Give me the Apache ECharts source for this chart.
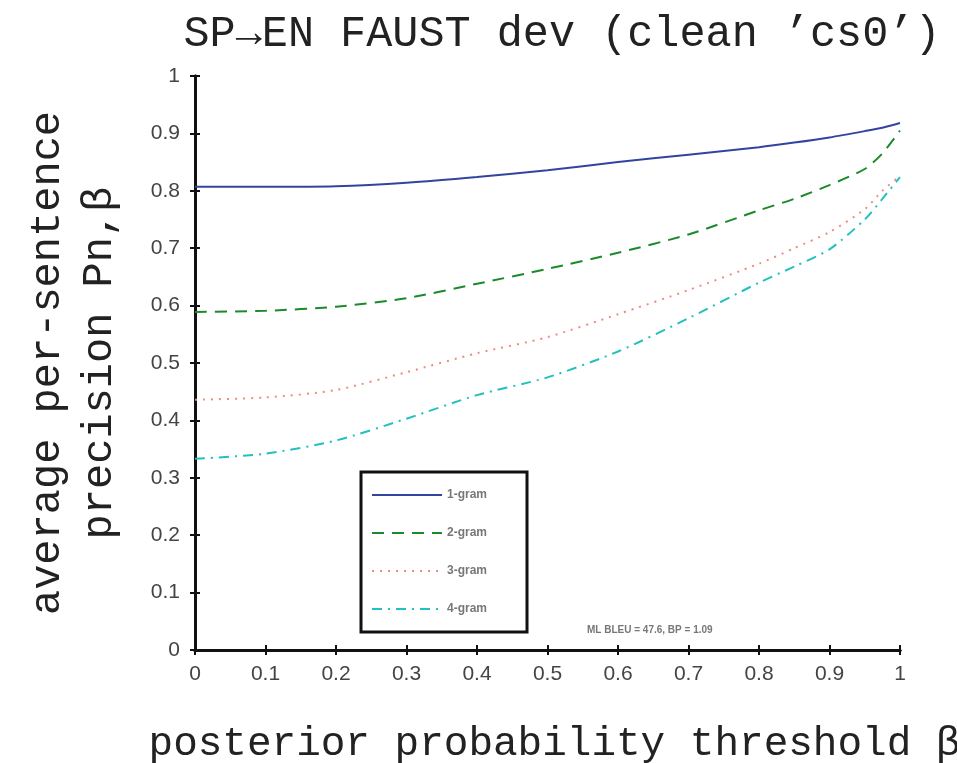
<!DOCTYPE html>
<html>
<head>
<meta charset="utf-8">
<script src="https://cdn.jsdelivr.net/npm/echarts@6/dist/echarts.min.js"></script>
<style>html,body{margin:0;padding:0;background:#fff}#c{width:957px;height:763px}</style>
</head>
<body>
<div id="c"></div>
<script>
const thresholds = [0, 0.1, 0.2, 0.3, 0.4, 0.5, 0.6, 0.7, 0.8, 0.85, 0.9, 0.95, 0.975, 1.0];
const gram1 = [0.807, 0.807, 0.808, 0.814, 0.824, 0.836, 0.850, 0.863, 0.876, 0.884, 0.893, 0.904, 0.910, 0.918];
const gram2 = [0.589, 0.591, 0.598, 0.613, 0.638, 0.664, 0.692, 0.724, 0.766, 0.786, 0.810, 0.838, 0.865, 0.905];
const gram3 = [0.436, 0.440, 0.453, 0.484, 0.517, 0.545, 0.585, 0.627, 0.673, 0.700, 0.728, 0.768, 0.800, 0.826];
const gram4 = [0.333, 0.342, 0.365, 0.403, 0.444, 0.475, 0.520, 0.578, 0.640, 0.668, 0.698, 0.750, 0.786, 0.824];
const seriesNames = ['1-gram', '2-gram', '3-gram', '4-gram'];
const titleText = 'SP\u2192EN FAUST dev (clean \u2019cs0\u2019)';
const xName = 'posterior probability threshold \u03b2';
const yName = 'average per-sentence\nprecision Pn,\u03b2';
const noteText = 'ML BLEU = 47.6, BP = 1.09';

const pair = (ys) => thresholds.map((x, i) => [x, ys[i]]);
const mono = "'Liberation Mono', 'DejaVu Sans Mono', monospace";
const sans = "'Liberation Sans', Arial, sans-serif";

const chart = echarts.init(document.getElementById('c'));
const axisCommon = {
  type: 'value', min: 0, max: 1, interval: 0.1,
  axisLine: { show: true, lineStyle: { color: '#111', width: 3 } },
  axisTick: { show: true, inside: true, length: 5, lineStyle: { color: '#111', width: 2 } },
  splitLine: { show: false }
};
const styles = [
  { color: '#3344a0', type: 'solid' },
  { color: '#1a8a2a', type: [12, 8] },
  { color: '#f08a80', type: [2, 6] },
  { color: '#22c0c0', type: [10, 6, 2, 6] }
];
const data = [gram1, gram2, gram3, gram4];

chart.setOption({
  animation: false,
  backgroundColor: '#fff',
  title: {
    text: titleText, left: 557, textAlign: 'center', top: 7,
    textStyle: { fontFamily: mono, fontSize: 43.5, fontWeight: 'normal', color: '#222' }
  },
  grid: { left: 195, top: 76, width: 705, height: 574, containLabel: false, outerBoundsMode: 'none' },
  legend: {
    left: 361, top: 472, orient: 'vertical',
    data: seriesNames,
    itemWidth: 70, itemHeight: 14, itemGap: 26,
    padding: [17, 40, 17, 10],
    borderColor: '#111', borderWidth: 3,
    itemStyle: { opacity: 0 },
    textStyle: { fontFamily: sans, fontSize: 12, color: '#777', fontWeight: 'bold' }
  },
  xAxis: [
    Object.assign({}, axisCommon, {
      position: 'bottom',
      name: xName, nameLocation: 'middle', nameGap: 74,
      nameTextStyle: { fontFamily: mono, fontSize: 41, color: '#222', padding: [0, 0, 0, 14] },
      axisLabel: { fontFamily: sans, fontSize: 21, color: '#444', margin: 14 }
    }),
    Object.assign({}, axisCommon, { position: 'top', axisLabel: { show: false } })
  ],
  yAxis: [
    Object.assign({}, axisCommon, {
      position: 'left',
      name: yName, nameLocation: 'middle', nameGap: 69, nameRotate: 90,
      nameTextStyle: { fontFamily: mono, fontSize: 42, color: '#222', lineHeight: 52 },
      axisLabel: { fontFamily: sans, fontSize: 21, color: '#444', margin: 15 }
    }),
    Object.assign({}, axisCommon, { position: 'right', axisLabel: { show: false } })
  ],
  series: data.map((ys, i) => ({
    name: seriesNames[i], type: 'line', data: pair(ys), smooth: 0.25,
    showSymbol: false, symbol: 'none',
    xAxisIndex: 0, yAxisIndex: 0,
    lineStyle: { color: styles[i].color, type: styles[i].type, width: 2 },
    itemStyle: { color: styles[i].color }
  })),
  graphic: [{
    type: 'text', left: 587, top: 625,
    style: { text: noteText, font: "bold 10px 'Liberation Sans', Arial, sans-serif", fill: '#777' }
  }]
});
</script>
</body>
</html>
